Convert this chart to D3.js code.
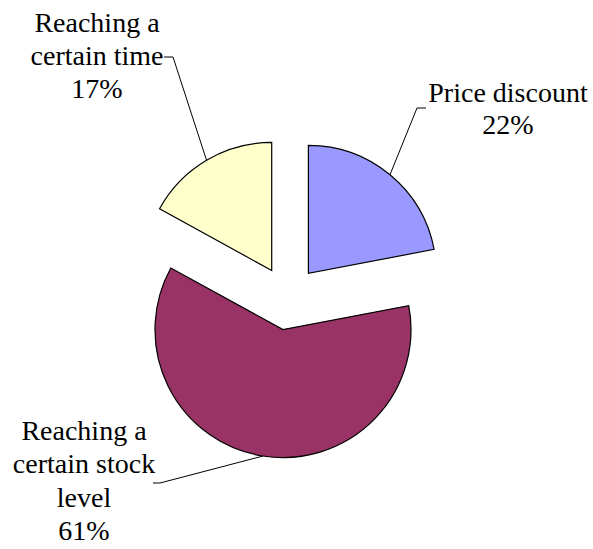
<!DOCTYPE html>
<html>
<head>
<meta charset="utf-8">
<script src="https://cdn.jsdelivr.net/npm/d3@7"></script>
</head>
<body style="margin:0">
<script>
// slice data, clockwise from 12 o'clock
var categories = ["Price discount", "Reaching a certain stock level", "Reaching a certain time"];
var values = [22, 61, 17];
var labelLines = [["Price discount"], ["Reaching a", "certain stock", "level"], ["Reaching a", "certain time"]];
var colors = ["#9999ff", "#993366", "#ffffcc"];

var width = 593, height = 549;
var cx = 288, cy = 298, radius = 128, explode = 32;

// label layout (elbow of leader line, text centre and first baseline)
var labelLayout = [
    { elbow: [417, 108], end: [426, 108], tx: 508, ty: 102, lh: 31.5 },
    { elbow: [160, 483], end: [153, 483], tx: 84, ty: 440, lh: 33.3 },
    { elbow: [173, 57], end: [164, 57], tx: 97, ty: 32, lh: 33 }
];

var svg = d3.select("body").append("svg")
    .attr("width", width)
    .attr("height", height);

var pie = d3.pie().sort(null).value(function(d) { return d; });
var arc = d3.arc().innerRadius(0).outerRadius(radius);

var total = d3.sum(values);
var arcs = pie(values);

// offset of each exploded slice along its mid angle
function offset(d) {
    var a = (d.startAngle + d.endAngle) / 2;
    return [cx + explode * Math.sin(a), cy - explode * Math.cos(a)];
}

var g = svg.selectAll(".slice")
    .data(arcs)
    .enter().append("g")
    .attr("class", "slice")
    .attr("transform", function(d) { return "translate(" + offset(d) + ")"; });

g.append("path")
    .attr("d", arc)
    .style("fill", function(d, i) { return colors[i]; })
    .style("stroke", "#000")
    .style("stroke-width", 1.2);

// leader lines from arc midpoint to label
svg.selectAll(".leader")
    .data(arcs)
    .enter().append("polyline")
    .attr("class", "leader")
    .attr("points", function(d, i) {
        var o = offset(d), a = (d.startAngle + d.endAngle) / 2;
        var p = [o[0] + radius * Math.sin(a), o[1] - radius * Math.cos(a)];
        var L = labelLayout[i];
        return [p, L.elbow, L.end].map(function(q) { return q.join(","); }).join(" ");
    })
    .style("fill", "none")
    .style("stroke", "#000")
    .style("stroke-width", 1);

// labels, one text element per line
var lineData = [];
arcs.forEach(function(d, i) {
    var L = labelLayout[i];
    var lines = labelLines[i].concat([Math.round(d.data / total * 100) + "%"]);
    lines.forEach(function(s, j) {
        lineData.push({ text: s, x: L.tx, y: L.ty + j * L.lh });
    });
});

svg.selectAll(".label")
    .data(lineData)
    .enter().append("text")
    .attr("class", "label")
    .attr("y", function(d) { return d.y; })
    .attr("font-size", 28)
    .style("font-family", function() { return "'Times New Roman'"; })
    .text(function(d) { return d.text; })
    .attr("x", function(d) { return d.x - this.getComputedTextLength() / 2; });
</script>
</body>
</html>
